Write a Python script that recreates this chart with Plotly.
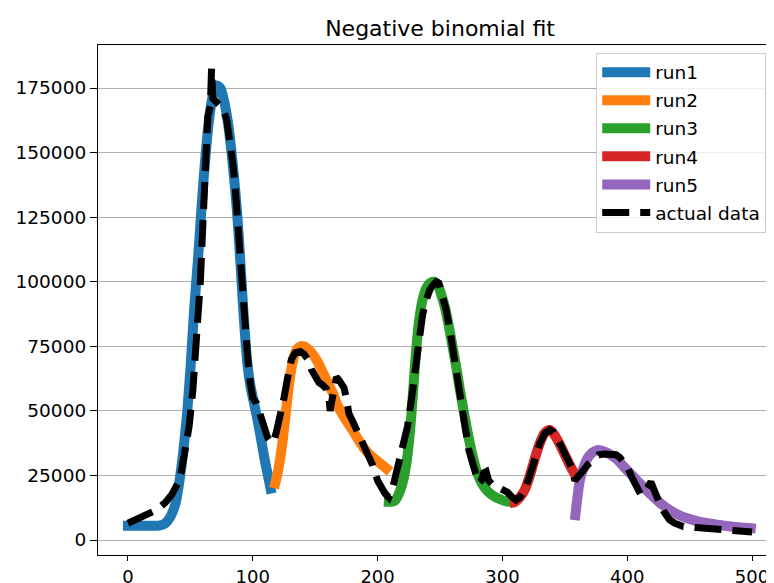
import plotly.graph_objects as go

# ---- data ----
run1_x = [-4, 5, 15, 25, 30, 34, 38, 41, 44, 47, 50, 53, 56, 58, 60, 62, 65, 68, 71, 74, 77, 80, 83, 86, 88, 90, 92, 94, 96, 98, 101, 104, 107, 110, 113, 115]
run1_y = [5500, 5500, 5500, 5600, 6500, 9000, 14000, 22000, 33000, 47000, 66000, 89000, 108000, 122000, 136000, 148000, 163000, 172000, 176000, 175000, 170000, 162000, 150000, 135000, 123000, 108000, 92000, 78000, 67000, 60000, 53000, 46000, 38000, 30000, 23000, 18000]

run2_x = [117, 120, 123, 126, 129, 132, 135, 138, 141, 144, 148, 152, 156, 160, 164, 168, 172, 176, 180, 185, 190, 195, 200, 205, 210]
run2_y = [20000, 26000, 35000, 47000, 60000, 69000, 73500, 75000, 75000, 74000, 72000, 69000, 65000, 61000, 57000, 52000, 48500, 45500, 42500, 38500, 35000, 32500, 30500, 28500, 26500]

run3_x = [205, 210, 214, 218, 221, 224, 227, 230, 233, 236, 239, 242, 245, 248, 251, 254, 257, 260, 263, 266, 269, 272, 275, 278, 281, 284, 288, 293, 298, 303, 308]
run3_y = [14800, 14800, 15300, 19000, 24000, 33000, 48000, 68000, 84000, 93000, 97500, 99500, 100000, 99000, 95000, 90000, 83000, 75000, 67000, 58000, 50000, 42000, 35000, 29000, 24500, 21500, 19000, 17000, 15800, 15000, 14800]

run4_x = [306, 310, 314, 318, 322, 326, 330, 334, 338, 342, 346, 350, 354, 358, 360]
run4_y = [14300, 14700, 16500, 19500, 25000, 31500, 37500, 41500, 42600, 40500, 37000, 33000, 29000, 25500, 24000]

run5_x = [358, 360, 362, 365, 368, 372, 376, 380, 385, 391, 398, 405, 412, 418, 426, 434, 443, 453, 463, 474, 487, 501, 503]
run5_y = [7700, 16000, 23000, 28000, 31500, 33800, 34800, 34500, 33500, 31600, 28000, 24500, 21000, 18000, 14500, 11600, 9300, 7700, 6600, 5800, 5000, 4500, 4400]

data_x = [0, 5, 10, 15, 20, 25, 30, 35, 40, 43, 46, 49, 52, 55, 58, 60, 62, 64, 66, 67, 68, 70, 73, 76, 79, 82, 84, 86, 88, 90, 92, 94, 96, 98, 100,
          103, 106, 109, 112, 115, 117, 119, 122, 125, 128, 131, 134, 138, 141, 144, 147, 150, 153, 156, 159, 161, 162, 163, 165, 167, 169, 171, 173, 175, 177,
          180, 184, 188, 192, 196, 200, 203, 206, 209, 212, 215, 218, 221, 224, 227, 230, 233, 236, 239, 242, 245, 247, 249, 252, 255, 258, 261, 264, 267, 270,
          273, 276, 279, 281, 283, 285, 287, 289, 292, 296, 300, 304, 308, 311, 314, 318, 322, 326, 330, 334, 338, 341, 344, 347, 350, 353, 356, 358, 361, 365,
          369, 373, 377, 382, 387, 391, 394, 397, 400, 404, 408, 411, 414, 417, 419, 421, 423, 426, 430, 434, 438, 445, 455, 465, 475, 485, 495, 500]
data_y = [6500, 7500, 8800, 10000, 11000, 12500, 14500, 17500, 22000, 27000, 34000, 44000, 58000, 78000, 100000, 122000, 150000, 164000, 168000, 182500, 171000, 170000, 169000, 167000, 163000, 155000, 146000, 136000, 122000, 106000, 92000, 80000, 70000, 61000, 55000,
          53000, 49000, 44000, 39500, 37500, 38500, 42000, 48000, 55000, 63000, 70000, 72500, 73000, 72000, 70000, 66000, 63000, 61000, 60000, 58500, 55000, 50000, 53000, 60000, 63000, 62000, 60000, 59000, 55000, 49000,
          46000, 42000, 38000, 34000, 29000, 23000, 20000, 18000, 16500, 20000, 26000, 32000, 38000, 44000, 54000, 67000, 79000, 87000, 93000, 97000, 99000, 100000, 99500, 95000, 89000, 81000, 72000, 63000, 53000, 43000,
          35000, 30000, 24500, 22000, 23000, 26000, 26500, 23000, 21500, 20500, 19500, 18500, 16500, 15500, 16500, 19500, 25000, 31500, 37500, 41300, 42600, 41800, 39500, 36500, 33500, 30500, 27500, 23000, 24500, 27000,
          29500, 31000, 33000, 33300, 33500, 33000, 32000, 30500, 28400, 24000, 19400, 17500, 18500, 21000, 22500, 20000, 17000, 14200, 10500, 7800, 6500, 5200, 4800, 4400, 4200, 3600, 3200, 3100]

x_ticks = [0, 100, 200, 300, 400, 500]
y_ticks = [0, 25000, 50000, 75000, 100000, 125000, 150000, 175000]

runs = [
    ("run1", run1_x, run1_y, "#1f77b4"),
    ("run2", run2_x, run2_y, "#ff7f0e"),
    ("run3", run3_x, run3_y, "#2ca02c"),
    ("run4", run4_x, run4_y, "#d62728"),
    ("run5", run5_x, run5_y, "#9467bd"),
]

fig = go.Figure()
for name, xs, ys, col in runs:
    fig.add_trace(go.Scatter(x=xs, y=ys, mode="lines", name=name, legendgroup=name,
                             line=dict(color=col, width=10, shape="spline", smoothing=0.8)))
fig.add_trace(go.Scatter(x=data_x, y=data_y, mode="lines", name="actual data", legendgroup="data",
                         line=dict(color="black", width=7, dash="27px,11px")))

FONT = "DejaVu Sans"
# the page body has an 8px margin, so the figure is 8px smaller and offsets are shifted
W, H = 766, 575
fig.update_layout(
    width=W, height=H,
    margin=dict(l=90, r=0, t=37, b=28),
    paper_bgcolor="white", plot_bgcolor="white",
    font=dict(family=FONT, size=18.5, color="black"),
    title=dict(text="Negative binomial fit", x=0.506, xref="paper", xanchor="center",
               y=1 - 20 / H, yref="container", yanchor="middle",
               font=dict(family=FONT, size=22, color="black")),
    showlegend=True,
    legend=dict(x=0.737, y=0.985, xanchor="left", yanchor="top",
                bgcolor="rgba(255,255,255,0.8)", bordercolor="#cccccc", borderwidth=1,
                font=dict(family=FONT, size=18.5, color="black"), tracegroupgap=1,
                itemwidth=48),
)
fig.update_xaxes(range=[-24, 517.6], tickvals=x_ticks, ticktext=[str(v) for v in x_ticks],
                 showgrid=False, zeroline=False, showline=True, linecolor="black", linewidth=1.2,
                 mirror=True, ticks="outside", ticklen=5, tickcolor="black", automargin=False,
                 tickfont=dict(size=18))
fig.update_yaxes(range=[-5808, 191650], tickvals=y_ticks, ticktext=[str(v) for v in y_ticks],
                 showgrid=True, gridcolor="#b0b0b0", gridwidth=1, zeroline=False,
                 showline=True, linecolor="black", linewidth=1.2, mirror=False,
                 ticks="outside", ticklen=7, tickcolor="black", automargin=False,
                 tickfont=dict(size=18.5))

fig.write_html("out.html")
